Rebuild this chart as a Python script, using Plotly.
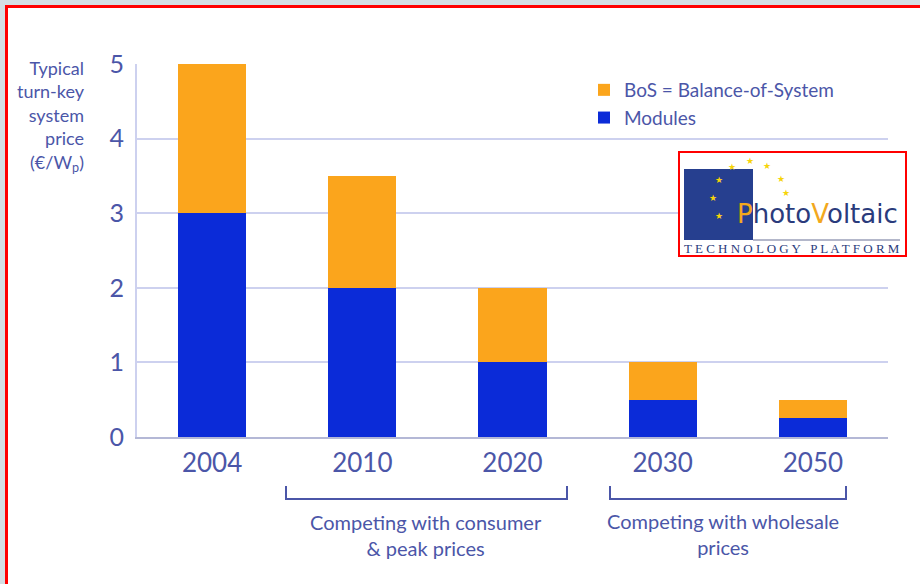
import plotly.graph_objects as go

years = ["2004", "2010", "2020", "2030", "2050"]
modules = [3.0, 2.0, 1.0, 0.5, 0.25]
bos = [2.0, 1.5, 1.0, 0.5, 0.25]
y_ticks = [0, 1, 2, 3, 4, 5]

TXT = "#4B56A8"
ORANGE = "#FBA51C"
BLUE = "#0B2BD8"
GRID = "#CDD1EF"
FONT = "Lato"

# plot area in pixels
L, R, T, B = 137, 888, 64, 437
W, H = 920, 584


def px(x):
    return (x - L) / (R - L)


def py(y):
    return (B - y) / (B - T)


fig = go.Figure()
fig.add_trace(go.Bar(x=years, y=modules, name="Modules", marker_color=BLUE,
                     marker_line_width=0))
fig.add_trace(go.Bar(x=years, y=bos, name="BoS = Balance-of-System",
                     marker_color=ORANGE, marker_line_width=0))

shapes = []
annotations = []

# page frame
shapes.append(dict(type="rect", xref="paper", yref="paper", x0=px(0), x1=px(W), y0=py(0), y1=py(5),
                   fillcolor="#D5DEE3", line_width=0, layer="below"))
shapes.append(dict(type="rect", xref="paper", yref="paper", x0=px(0), x1=px(5), y0=py(0), y1=py(H),
                   fillcolor="#D5DEE3", line_width=0, layer="below"))
shapes.append(dict(type="rect", xref="paper", yref="paper", x0=px(6.5), x1=px(W + 20), y0=py(6.5), y1=py(H + 20),
                   line=dict(color="#FF0000", width=3), fillcolor="rgba(0,0,0,0)"))

# y-axis title
annotations.append(dict(xref="paper", yref="paper", x=px(87), y=py(55), xanchor="right", yanchor="top",
                        align="right", showarrow=False,
                        text="Typical<br>turn-key<br>system<br>price<br>(€/W<sub>p</sub>)",
                        font=dict(family=FONT, size=18, color=TXT)))

# brackets
for (x0, x1) in [(286, 567), (610, 846)]:
    shapes.append(dict(type="path", xref="paper", yref="paper",
                       path=f"M {px(x0)},{py(486)} L {px(x0)},{py(499)} L {px(x1)},{py(499)} L {px(x1)},{py(486)}",
                       line=dict(color=TXT, width=2)))
annotations.append(dict(xref="paper", yref="paper", x=px(426), y=py(535), xanchor="center", yanchor="middle",
                        showarrow=False, text="Competing with consumer<br>& peak prices",
                        font=dict(family=FONT, size=20, color=TXT)))
annotations.append(dict(xref="paper", yref="paper", x=px(723), y=py(534), xanchor="center", yanchor="middle",
                        showarrow=False, text="Competing with wholesale<br>prices",
                        font=dict(family=FONT, size=20, color=TXT)))

# logo
shapes.append(dict(type="rect", xref="paper", yref="paper", x0=px(679), x1=px(906), y0=py(152), y1=py(256),
                   fillcolor="white", line=dict(color="#FF0000", width=2)))
shapes.append(dict(type="rect", xref="paper", yref="paper", x0=px(684), x1=px(753), y0=py(169), y1=py(240),
                   fillcolor="#263F8F", line_width=0))
shapes.append(dict(type="line", xref="paper", yref="paper", x0=px(753), x1=px(900), y0=py(240), y1=py(240),
                   line=dict(color="#9A9FB8", width=1.5)))
stars = [(732, 167), (750, 161), (767, 166), (781, 179), (786, 193), (719, 180), (713, 198), (719, 216)]
for sx, sy in stars:
    annotations.append(dict(xref="paper", yref="paper", x=px(sx), y=py(sy), xanchor="center", yanchor="middle",
                            showarrow=False, text="★",
                            font=dict(family="DejaVu Sans", size=9, color="#F6D40A")))
annotations.append(dict(xref="paper", yref="paper", x=px(817), y=py(214), xanchor="center", yanchor="middle",
                        showarrow=False,
                        text="<span style='color:#F2A81D'>P</span>hoto<span style='color:#F2A81D'>V</span>oltaic",
                        font=dict(family="DejaVu Sans", size=26, color="#2A3B7C")))
annotations.append(dict(xref="paper", yref="paper", x=px(792), y=py(248), xanchor="center", yanchor="middle",
                        showarrow=False, text="T E C H N O L O G Y   P L A T F O R M",
                        font=dict(family="Liberation Serif", size=13, color="#2A3B7C")))

fig.update_layout(
    width=W, height=H,
    margin=dict(l=L, r=W - R, t=T, b=H - B),
    paper_bgcolor="white", plot_bgcolor="white",
    barmode="stack", bargap=0.547,
    showlegend=True,
    legend=dict(x=px(584), y=py(71), xanchor="left", yanchor="top", traceorder="reversed",
                font=dict(family=FONT, size=19, color=TXT), bgcolor="rgba(0,0,0,0)",
                itemwidth=30, tracegroupgap=0),
    font=dict(family=FONT, color=TXT),
    xaxis=dict(showgrid=False, showline=True, linecolor="#B4B8D6", linewidth=2,
               tickfont=dict(family=FONT, size=26, color=TXT), ticks="", ticklabelstandoff=2),
    yaxis=dict(range=[0, 5], tickvals=y_ticks, showgrid=True, gridcolor=GRID, gridwidth=2,
               showline=True, linecolor=GRID, linewidth=2, zeroline=False,
               tickfont=dict(family=FONT, size=25, color=TXT), ticks="", ticklabelstandoff=6),
    shapes=shapes, annotations=annotations,
)

fig.write_html("out.html", config={"displayModeBar": False},
               post_script="document.body.style.margin='0px';")
